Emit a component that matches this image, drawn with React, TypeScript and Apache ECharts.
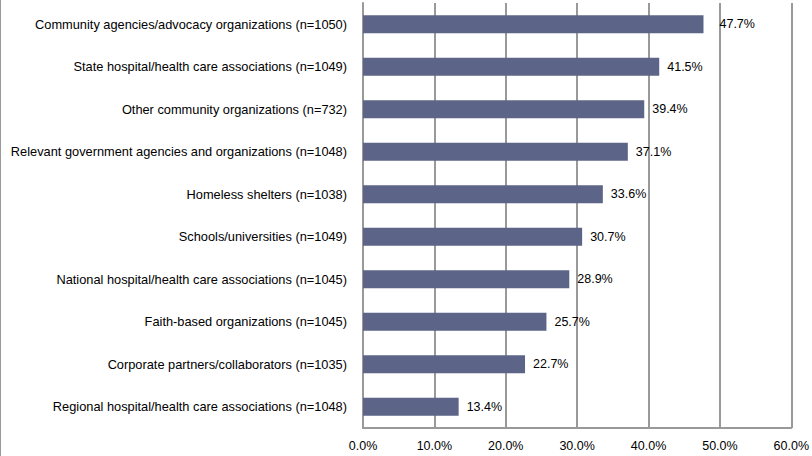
import React, { useEffect, useRef } from "react";
import * as echarts from "echarts";

const categories = [
  "Community agencies/advocacy organizations (n=1050)",
  "State hospital/health care associations (n=1049)",
  "Other community organizations (n=732)",
  "Relevant government agencies and organizations (n=1048)",
  "Homeless shelters (n=1038)",
  "Schools/universities (n=1049)",
  "National hospital/health care associations (n=1045)",
  "Faith-based organizations (n=1045)",
  "Corporate partners/collaborators (n=1035)",
  "Regional hospital/health care associations (n=1048)",
];
const values = [47.7, 41.5, 39.4, 37.1, 33.6, 30.7, 28.9, 25.7, 22.7, 13.4];
const axisMin = 0;
const axisMax = 60;
const axisStep = 10;

export default function App() {
  const ref = useRef<HTMLDivElement>(null);
  useEffect(() => {
    const chart = echarts.init(ref.current!, null, { renderer: "svg" });
    const font = "Liberation Sans, Arial, sans-serif";
    chart.setOption({
      animation: false,
      backgroundColor: "#ffffff",
      grid: { left: 363, right: 19, top: 3, bottom: 28, containLabel: false },
      xAxis: {
        type: "value",
        min: axisMin,
        max: axisMax,
        interval: axisStep,
        axisLine: { show: true, lineStyle: { color: "#999999", width: 2 } },
        axisTick: { show: false },
        splitLine: { show: true, lineStyle: { color: "#999999", width: 2 } },
        axisLabel: {
          formatter: (v: number) => v.toFixed(1) + "%",
          color: "#000000",
          fontFamily: font,
          fontSize: 12.5,
          margin: 11,
        },
      },
      yAxis: {
        type: "category",
        data: categories,
        inverse: true,
        axisLine: { show: true, lineStyle: { color: "#999999", width: 2 } },
        axisTick: { show: false },
        axisLabel: {
          color: "#000000",
          fontFamily: font,
          fontSize: 12.8,
          margin: 16,
        },
      },
      series: [
        {
          type: "bar",
          data: values.map((v, i) =>
            i === 0 ? { value: v, label: { distance: 16 } } : v
          ),
          barWidth: 18,
          itemStyle: { color: "#5c6587" },
          label: {
            show: true,
            position: "right",
            distance: 8,
            formatter: (p: any) => Number(p.value).toFixed(1) + "%",
            color: "#000000",
            fontFamily: font,
            fontSize: 12.5,
          },
        },
      ],
      graphic: [
        {
          type: "line",
          shape: { x1: 0.5, y1: 0, x2: 0.5, y2: 456 },
          style: { stroke: "#9a9a9a", lineWidth: 1 },
        },
      ],
    });
    return () => chart.dispose();
  }, []);
  return (
    <div
      ref={ref}
      style={{ position: "absolute", left: 0, top: 0, width: 812, height: 456 }}
    />
  );
}
